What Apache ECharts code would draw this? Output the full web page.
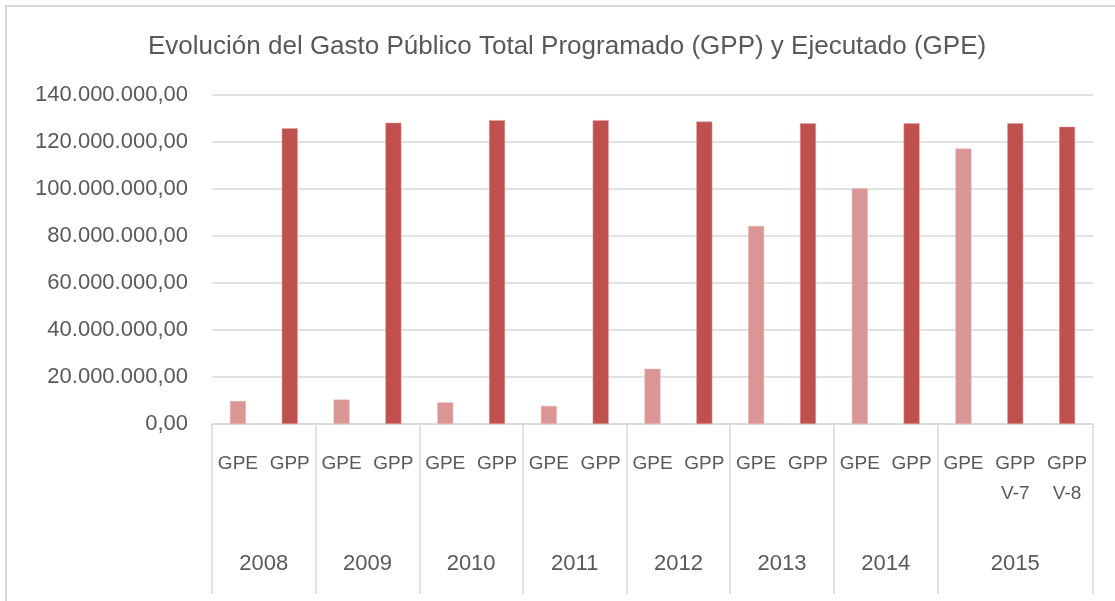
<!DOCTYPE html>
<html>
<head>
<meta charset="utf-8">
<script src="https://cdn.jsdelivr.net/npm/echarts@6/dist/echarts.min.js"></script>
<style>
  html, body { margin: 0; padding: 0; background: #fff; }
  #frame { position: absolute; left: 5px; top: 5px; width: 1110px; height: 596px;
           border-top: 2px solid #d9d9d9; border-left: 2px solid #d9d9d9; box-sizing: border-box; }
  #main { position: absolute; left: 0; top: 0; width: 1115px; height: 601px; }
</style>
</head>
<body>
<div id="frame"></div>
<div id="main"></div>
<script>
// categorias del eje (nivel inferior) y años (nivel superior)
const categorias = ['GPE', 'GPP', 'GPE', 'GPP', 'GPE', 'GPP', 'GPE', 'GPP',
  'GPE', 'GPP', 'GPE', 'GPP', 'GPE', 'GPP', 'GPE', 'GPP\nV-7', 'GPP\nV-8'];
const anios = ['2008', '2009', '2010', '2011', '2012', '2013', '2014', '2015'];
// posicion (en categorias) del centro de cada año y de los separadores
const centroAnios = [1, 3, 5, 7, 9, 11, 13, 15.5];
const separadores = [0, 2, 4, 6, 8, 10, 12, 14, 17];

// Gasto Público Ejecutado
const gpe = [9800000, null, 10400000, null, 9200000, null, 7700000, null,
  23500000, null, 84300000, null, 100300000, null, 117200000, null, null];
// Gasto Público Programado
const gpp = [null, 125900000, null, 128200000, null, 129300000, null, 129300000,
  null, 128700000, null, 128000000, null, 128000000, null, 128000000, 126500000];

const yTicks = { min: 0, max: 140000000, interval: 20000000 };

function formatoES(v) {
  return String(Math.round(v)).replace(/\B(?=(\d{3})+(?!\d))/g, '.') + ',00';
}

let myChart = echarts.init(document.getElementById('main'), null, { renderer: 'canvas' });

const fuente = 'Liberation Sans';
const gris = '#595959';
const linea = '#d9d9d9';

let option = {
  animation: false,
  title: {
    text: 'Evolución del Gasto Público Total Programado (GPP) y Ejecutado (GPE)',
    left: 143,
    top: 29,
    textStyle: { fontFamily: fuente, fontSize: 26, fontWeight: 'normal', color: gris }
  },
  grid: { left: 212, right: 22, top: 95, bottom: 177 },
  xAxis: [
    {
      type: 'category',
      data: categorias,
      axisLine: { lineStyle: { color: linea, width: 1.5 } },
      axisTick: { show: false },
      axisLabel: {
        interval: 0, margin: 25,
        fontFamily: fuente, fontSize: 19, color: gris, lineHeight: 30
      }
    },
    {
      type: 'value',
      position: 'bottom',
      min: 0, max: 17,
      axisLine: { show: false },
      splitLine: { show: false },
      axisTick: {
        show: true, length: 170, customValues: separadores,
        lineStyle: { color: linea, width: 1.5 }
      },
      axisLabel: {
        customValues: centroAnios,
        margin: 129,
        fontFamily: fuente, fontSize: 22, color: gris,
        formatter: function (v) {
          let i = centroAnios.indexOf(v);
          return i >= 0 ? anios[i] : '';
        }
      }
    }
  ],
  yAxis: {
    type: 'value',
    min: yTicks.min, max: yTicks.max, interval: yTicks.interval,
    axisLine: { show: false },
    axisTick: { show: false },
    splitLine: { lineStyle: { color: linea, width: 1.5 } },
    axisLabel: {
      margin: 24,
      fontFamily: fuente, fontSize: 22, color: gris,
      formatter: formatoES
    }
  },
  series: [
    {
      name: 'GPE', type: 'bar', stack: 'g', xAxisIndex: 0,
      barWidth: 16, data: gpe,
      itemStyle: { color: '#d99694', borderColor: '#e8b9b8', borderWidth: 0.5 }
    },
    {
      name: 'GPP', type: 'bar', stack: 'g', xAxisIndex: 0,
      barWidth: 16, data: gpp,
      itemStyle: { color: '#c0504d', borderColor: '#e0a09e', borderWidth: 0.5 }
    }
  ]
};

myChart.setOption(option);
</script>
</body>
</html>
